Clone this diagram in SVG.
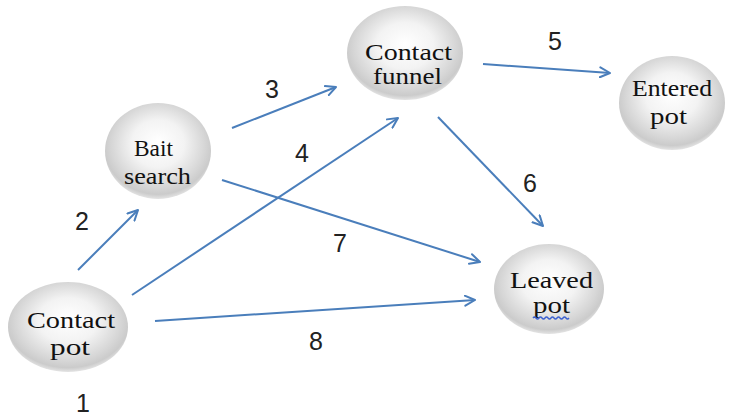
<svg xmlns="http://www.w3.org/2000/svg" width="739" height="418" viewBox="0 0 739 418">
<defs>
<radialGradient id="ball" cx="50%" cy="45%" r="55%" fx="50%" fy="40%">
<stop offset="0" stop-color="#ffffff"/>
<stop offset="0.45" stop-color="#f3f3f3"/>
<stop offset="0.8" stop-color="#d6d6d6"/>
<stop offset="0.92" stop-color="#cbcbcb"/>
<stop offset="1" stop-color="#e4e4e4"/>
</radialGradient>
<marker id="arr" viewBox="0 0 12 12" refX="11" refY="6" markerWidth="12" markerHeight="12" markerUnits="userSpaceOnUse" orient="auto">
<path d="M1,1 L11,6 L1,11" fill="none" stroke="#4a7ebb" stroke-width="2" stroke-linecap="round" stroke-linejoin="round"/>
</marker>
</defs>
<style>
.n{fill:url(#ball);}
.t{font-family:"Liberation Serif","Times New Roman",serif;font-size:24px;fill:#111;}
.c{stroke:#4a7ebb;stroke-width:2;fill:none;marker-end:url(#arr);}
.l{font-family:"Liberation Sans",Arial,sans-serif;font-size:25px;fill:#222;text-anchor:middle;}
</style>
<rect width="739" height="418" fill="#ffffff"/>
<g id="connectors">
<line class="c" x1="78" y1="270" x2="138" y2="210"/>
<line class="c" x1="232" y1="128" x2="336" y2="87"/>
<line class="c" x1="132" y1="295" x2="398" y2="118"/>
<line class="c" x1="483" y1="64" x2="610" y2="73"/>
<line class="c" x1="438" y1="117" x2="543" y2="226"/>
<line class="c" x1="222" y1="180" x2="480" y2="262"/>
<line class="c" x1="155" y1="321" x2="475" y2="300"/>
</g>
<g id="labels">
<text class="l" x="83" y="412">1</text>
<text class="l" x="82" y="230">2</text>
<text class="l" x="272" y="98">3</text>
<text class="l" x="302" y="162">4</text>
<text class="l" x="555" y="50">5</text>
<text class="l" x="530" y="192">6</text>
<text class="l" x="340" y="252">7</text>
<text class="l" x="316" y="350">8</text>
</g>
<g id="contact-pot">
<ellipse class="n" cx="68" cy="327" rx="60" ry="45"/>
<text class="t" x="27" y="328" textLength="88" lengthAdjust="spacingAndGlyphs">Contact</text>
<text class="t" x="50" y="355" textLength="40" lengthAdjust="spacingAndGlyphs">pot</text>
</g>
<g id="bait-search">
<ellipse class="n" cx="158" cy="151" rx="53" ry="48"/>
<text class="t" x="134" y="156" textLength="39" lengthAdjust="spacingAndGlyphs">Bait</text>
<text class="t" x="124" y="184" textLength="67" lengthAdjust="spacingAndGlyphs">search</text>
</g>
<g id="contact-funnel">
<ellipse class="n" cx="405" cy="53" rx="58" ry="47"/>
<text class="t" x="365" y="60" textLength="87" lengthAdjust="spacingAndGlyphs">Contact</text>
<text class="t" x="373" y="84" textLength="69" lengthAdjust="spacingAndGlyphs">funnel</text>
</g>
<g id="entered-pot">
<ellipse class="n" cx="672" cy="103" rx="53" ry="47"/>
<text class="t" x="632" y="96" textLength="80" lengthAdjust="spacingAndGlyphs">Entered</text>
<text class="t" x="650" y="124" textLength="37" lengthAdjust="spacingAndGlyphs">pot</text>
</g>
<g id="leaved-pot">
<ellipse class="n" cx="549" cy="289" rx="55" ry="45"/>
<text class="t" x="510" y="288" textLength="83" lengthAdjust="spacingAndGlyphs">Leaved</text>
<text class="t" x="533" y="313" textLength="37" lengthAdjust="spacingAndGlyphs">pot</text>
<path d="M533,318 q1.5,-2 3,0 t3,0 t3,0 t3,0 t3,0 t3,0 t3,0 t3,0 t3,0 t3,0 t3,0 t3,0" fill="none" stroke="#3a5fd0" stroke-width="1.3"/>
</g>
</svg>
